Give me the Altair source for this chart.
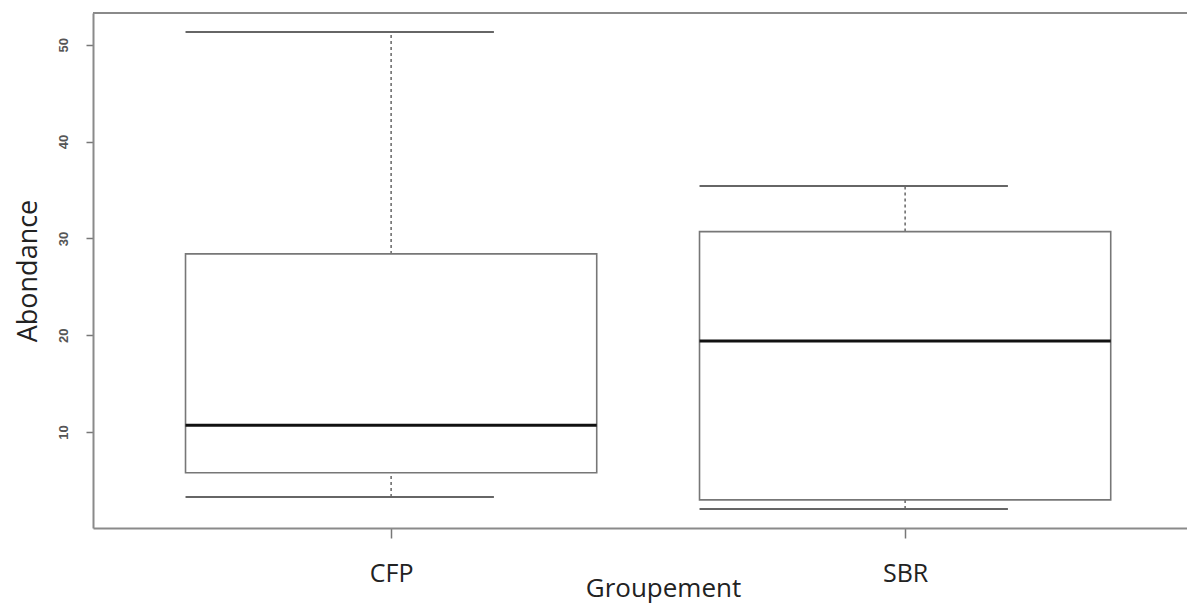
import altair as alt
import pandas as pd

# Values
groups = ["CFP", "SBR"]
positions = [1, 2]
whisker_low = [3.3, 2.07]
q1 = [5.8, 3.0]
median = [10.7, 19.4]
q3 = [28.4, 30.7]
whisker_high = [51.3, 35.4]

df = pd.DataFrame({
    "group": groups,
    "pos": positions,
    "wlo": whisker_low,
    "q1": q1,
    "med": median,
    "q3": q3,
    "whi": whisker_high,
})

label_expr = "[" + ",".join("'%s'" % g for g in groups) + "][datum.value - 1]"

VIEW_W = 1094
VIEW_H = 515
FRAME = "#8a8a8a"
x_scale = alt.Scale(domain=[0.42, 0.42 + VIEW_W / 514.0], nice=False, zero=False)
y_scale = alt.Scale(domain=[0.1, 53.27], nice=False, zero=False)

x_axis = alt.Axis(
    values=positions, labelExpr=label_expr, grid=False,
    domain=True, domainColor=FRAME, domainWidth=2,
    tickSize=10, tickColor="#777", tickWidth=1.5,
    labelPadding=43, labelBaseline="alphabetic", labelFontSize=25,
    labelFont="Open Sans", labelColor="#222", labelAngle=0,
    title="Groupement", titleFont="Open Sans", titleFontSize=26,
    titleFontWeight="normal", titleColor="#222", titleX=570, titleY=68,
    titleAlign="center", titleBaseline="alphabetic",
)
y_axis = alt.Axis(
    values=[10, 20, 30, 40, 50], grid=False,
    domain=True, domainColor=FRAME, domainWidth=2,
    tickSize=7, tickColor="#777", tickWidth=1.5,
    labelAngle=270, labelAlign="center", labelBaseline="middle",
    labelPadding=23, labelFontSize=13, labelFont="Liberation Sans",
    labelFontWeight="bold", labelColor="#555",
    title="Abondance", titleFont="Open Sans", titleFontSize=27,
    titleFontWeight="normal", titleColor="#222", titleAngle=270,
    titleX=-65, titleY=257.5, titleAlign="center", titleBaseline="middle",
)

base = alt.Chart(df).transform_calculate(
    box_lo="datum.pos - 0.4",
    box_hi="datum.pos + 0.4",
    cap_hi="datum.pos + 0.2",
)

upper_whisker = base.mark_rule(color="#666", strokeWidth=1.5, strokeDash=[3, 3]).encode(
    x=alt.X("pos:Q", scale=x_scale, axis=x_axis),
    y=alt.Y("q3:Q", scale=y_scale, axis=y_axis),
    y2="whi:Q",
)
lower_whisker = base.mark_rule(color="#666", strokeWidth=1.5, strokeDash=[3, 3]).encode(
    x=alt.X("pos:Q", scale=x_scale, axis=x_axis),
    y=alt.Y("wlo:Q", scale=y_scale, axis=y_axis),
    y2="q1:Q",
)
cap_high = base.mark_rule(color="#666", strokeWidth=2).encode(
    x=alt.X("box_lo:Q", scale=x_scale, axis=x_axis),
    x2="cap_hi:Q",
    y=alt.Y("whi:Q", scale=y_scale, axis=y_axis),
)
cap_low = base.mark_rule(color="#666", strokeWidth=2).encode(
    x=alt.X("box_lo:Q", scale=x_scale, axis=x_axis),
    x2="cap_hi:Q",
    y=alt.Y("wlo:Q", scale=y_scale, axis=y_axis),
)
box = base.mark_rect(fill="white", stroke="#777", strokeWidth=1.6).encode(
    x=alt.X("box_lo:Q", scale=x_scale, axis=x_axis),
    x2="box_hi:Q",
    y=alt.Y("q1:Q", scale=y_scale, axis=y_axis),
    y2="q3:Q",
)
med = base.mark_rule(color="#111", strokeWidth=3).encode(
    x=alt.X("box_lo:Q", scale=x_scale, axis=x_axis),
    x2="box_hi:Q",
    y=alt.Y("med:Q", scale=y_scale, axis=y_axis),
)
# top edge of the plot frame (the reference frame is open on the right side)
top_edge = alt.Chart(df).mark_rule(color=FRAME, strokeWidth=2).encode(
    x=alt.value(0), x2=alt.value(VIEW_W + 20), y=alt.value(0),
)

chart = alt.layer(upper_whisker, lower_whisker, box, cap_high, cap_low, med, top_edge).properties(
    width=VIEW_W,
    height=VIEW_H,
    autosize=alt.AutoSizeParams(type="none"),
    padding={"left": 85, "top": 5, "right": 0, "bottom": 78},
).configure(background="white").configure_view(
    stroke=None,
)

chart.save("out.html", embed_options={"renderer": "svg", "actions": False})
